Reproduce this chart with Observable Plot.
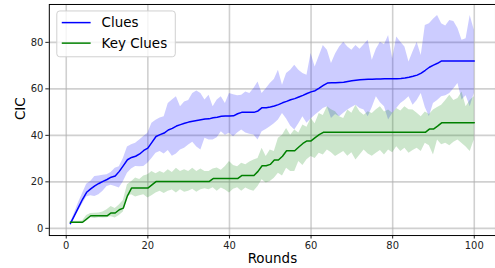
<!DOCTYPE html>
<html>
<head>
<meta charset="utf-8">
<script src="https://cdn.jsdelivr.net/npm/d3@7"></script>
<script src="https://cdn.jsdelivr.net/npm/@observablehq/plot@0.6"></script>
<style>
  html, body { margin: 0; padding: 0; background: #fff; }
  #chart { width: 495px; height: 268px; overflow: hidden; position: relative; }
  svg { font-family: "DejaVu Sans", sans-serif; }
</style>
</head>
<body>
<div id="chart"></div>
<script>
const rounds = d3.range(1, 101);

const cluesMean = [2.0,5.5,9,12.5,15.5,17,18.3,19.3,20.2,21,
  22,22.5,24.5,27,29.5,30.5,31,32,33.5,34.5,
  37,39.5,40.3,41,42.3,43,44,44.6,45.2,45.7,
  46.1,46.4,46.7,47,47.1,47.6,47.8,48.2,48.3,48.3,
  48.4,49.3,49.9,49.9,49.9,49.9,50.5,51.9,51.9,52.2,
  52.6,53.2,54,54.6,55.3,55.8,56.5,57.2,58,58.7,
  59.2,60.3,61.5,62.5,62.6,62.6,62.7,62.8,63.2,63.5,
  63.7,63.9,64,64.1,64.1,64.2,64.2,64.3,64.3,64.4,
  64.4,64.5,64.7,65,65.4,65.9,66.8,68,69.3,70.2,
  71,72,72,72,72,72,72,72,72,72];

const cluesLow = [1.8,4.5,7.5,10.5,13.5,14,13.7,14.5,16,18,
  18.5,18,17.3,20,23.7,25.5,26.6,26.5,26.6,28,
  30,32.3,33,32,33.5,31,32,33.7,34.4,35.9,
  37,35,33.7,38.7,38,38,39,41.6,40,40.9,
  39.4,41,42.3,41,40.5,40.2,38,41.6,42.5,43.7,
  45,46.6,49.4,47,44,42.3,45,48,45.2,47,
  48.7,50,51.6,52.3,47.3,49,48,49.5,50.9,52,
  53,51.5,50.9,48,52,56.6,54,52.3,46.6,49.4,
  51.5,53.7,55,56.6,53,55,58,52,48,53.7,
  55,56.6,57,58,60,62.3,55.2,57,52.3,58];

const cluesHigh = [2.2,6.5,11,15,19,20.1,22.3,22.5,22.8,23,
  24,25.9,26.5,30,35,36,36.6,38,39.5,40.9,
  45.2,46.5,47.5,48,53.7,55.2,56.6,52.3,54.4,55,
  58,59.1,58,55.2,57.3,52.3,55.2,56.6,53.7,58,
  57.5,57,57.3,58.7,58,60.2,63,58,60,62.3,
  64,68,61.6,66.6,68,70.2,68,66.6,65.9,75.2,
  69.4,74,78.7,76.6,70.9,75,78,80.1,78,76.6,
  78.7,77,79,80.9,72.3,77,80,79,83,73,
  82.3,80,78,71.6,76,80.1,74.4,87.3,88,90,
  91.6,88,87,89.4,89,86,80.9,81.6,91.6,85.2];

const keyMean = [2.6,2.6,2.6,2.6,4,5.4,5.4,5.4,5.4,5.4,
  6.6,6.6,8,8.7,14,17.3,17.3,17.3,17.3,17.3,
  18.7,20.1,20.1,20.1,20.1,20.1,20.1,20.1,20.1,20.1,
  20.1,20.1,20.1,20.1,20.1,21.4,21.4,21.4,21.4,21.4,
  21.4,21.4,22.7,22.7,22.7,22.7,24.5,26.9,26.9,27.5,
  29.4,29.4,31,33.4,33.4,33.4,35,36.5,37.6,37.6,
  39,40.3,41.3,41.3,41.3,41.3,41.3,41.3,41.3,41.3,
  41.3,41.3,41.3,41.3,41.3,41.3,41.3,41.3,41.3,41.3,
  41.3,41.3,41.3,41.3,41.3,41.3,41.3,41.3,42.7,42.7,
  44,45.4,45.4,45.4,45.4,45.4,45.4,45.4,45.4,45.4];

const keyLow = [2.2,2.2,2.2,2.0,3,4.5,4.2,4.5,4.4,4.5,
  5,4.4,5.5,7,13.7,14.5,13.5,14,14.4,13,
  14,15.2,16,15,15.9,16.5,15.2,16.6,15.5,15.9,
  16.8,15.5,16.6,17,16.6,17.5,16,17.3,16.5,15.2,
  16.8,17.5,15.9,17.3,16.5,15.9,18,20.9,19.5,20.1,
  21.5,23.7,22.5,25.9,24.4,24.4,28.7,27,29.5,30.9,
  30,32.3,31.5,33.7,32.5,30.9,32,33,31,32.5,
  29.4,31.5,33.7,32,31,32.3,33.5,31.5,33.7,32.5,
  35.1,33,34.5,32.3,33.5,34.4,33,36.6,35.5,31.6,
  38,36,36.6,35.5,37,38,36.5,35,33,38];

const keyHigh = [3,3,3,3.2,5.5,6.4,6.5,6.6,7,8,
  9.4,8.5,10,12,18.7,20,21.7,21,22.5,23,
  24.4,23.5,24.5,23.7,25.2,24,25.8,24.5,25.2,24.4,
  25.8,24.5,25.5,24.4,24.4,25.5,26,25,26.6,28.7,
  27,26.5,28,27.3,28.5,29.4,30,34.4,30.9,33.7,
  33,38.7,40,43,40,42.3,41,44.4,43.5,47.3,
  45,49.4,48.5,52.3,51,50.1,48,47.3,50.9,49.5,
  53,50,48.7,50.1,49.4,51,52.3,50,50.9,49.5,
  51.6,50.5,52.3,51,50.9,49.5,48,50,49,50.9,
  52,53,55,57.3,55,55.9,58.7,52.3,55,56.6];

const xTicks = [0, 20, 40, 60, 80, 100];
const yTicks = [0, 20, 40, 60, 80];
const seriesNames = ["Clues", "Key Clues"];
const seriesColors = ["blue", "green"];

const data = rounds.map((r, i) => ({
  r,
  cm: cluesMean[i], cl: cluesLow[i], ch: cluesHigh[i],
  km: keyMean[i], kl: keyLow[i], kh: keyHigh[i]
}));

const plot = Plot.plot({
  width: 497,
  height: 268,
  marginLeft: 49,
  marginRight: 0,
  marginTop: 4,
  marginBottom: 32,
  style: { fontFamily: "DejaVu Sans, sans-serif", background: "white", color: "#222" },
  x: { domain: [-4.15, 105.2] },
  y: { domain: [-3.1, 96.3] },
  marks: [
    Plot.gridX(xTicks, { stroke: "#b0b0b0", strokeOpacity: 0.6, strokeWidth: 1.6 }),
    Plot.gridY(yTicks, { stroke: "#b0b0b0", strokeOpacity: 0.6, strokeWidth: 1.6 }),
    Plot.areaY(data, { x: "r", y1: "cl", y2: "ch", fill: seriesColors[0], fillOpacity: 0.2 }),
    Plot.areaY(data, { x: "r", y1: "kl", y2: "kh", fill: seriesColors[1], fillOpacity: 0.2 }),
    Plot.line(data, { x: "r", y: "cm", stroke: seriesColors[0], strokeWidth: 1.5 }),
    Plot.line(data, { x: "r", y: "km", stroke: seriesColors[1], strokeWidth: 1.5 }),
    Plot.axisX(xTicks, { tickSize: 3.5, tickPadding: 3, fontSize: 10, label: null, stroke: "#222" }),
    Plot.axisY(yTicks, { tickSize: 3.5, tickPadding: 2.5, fontSize: 10, label: null, stroke: "#222" }),
    Plot.frame({ stroke: "black", strokeWidth: 1 }),
    Plot.text(["Rounds"], { frameAnchor: "bottom", dy: 18, fontSize: 13.5, fill: "black", textAnchor: "middle", lineAnchor: "top" }),
    Plot.text(["CIC"], { frameAnchor: "left", dx: -29, rotate: -90, fontSize: 13.5, fill: "black" })
  ]
});

document.getElementById("chart").appendChild(plot);

// legend (matplotlib-style, upper left inside axes)
const svg = d3.select(plot);
const lg = svg.append("g").attr("transform", "translate(57,11)");
lg.append("rect").attr("width", 119).attr("height", 46).attr("rx", 3)
  .attr("fill", "white").attr("fill-opacity", 0.8).attr("stroke", "#d0d0d0");
seriesNames.forEach((name, i) => {
  const y = 11.7 + i * 20.6;
  lg.append("line").attr("x1", 5).attr("x2", 34).attr("y1", y).attr("y2", y)
    .attr("stroke", seriesColors[i]).attr("stroke-width", 1.5);
  lg.append("text").attr("x", 45).attr("y", y).attr("dy", "0.36em")
    .attr("text-anchor", "start")
    .attr("font-size", 13.5).attr("fill", "black").text(name);
});
</script>
</body>
</html>
